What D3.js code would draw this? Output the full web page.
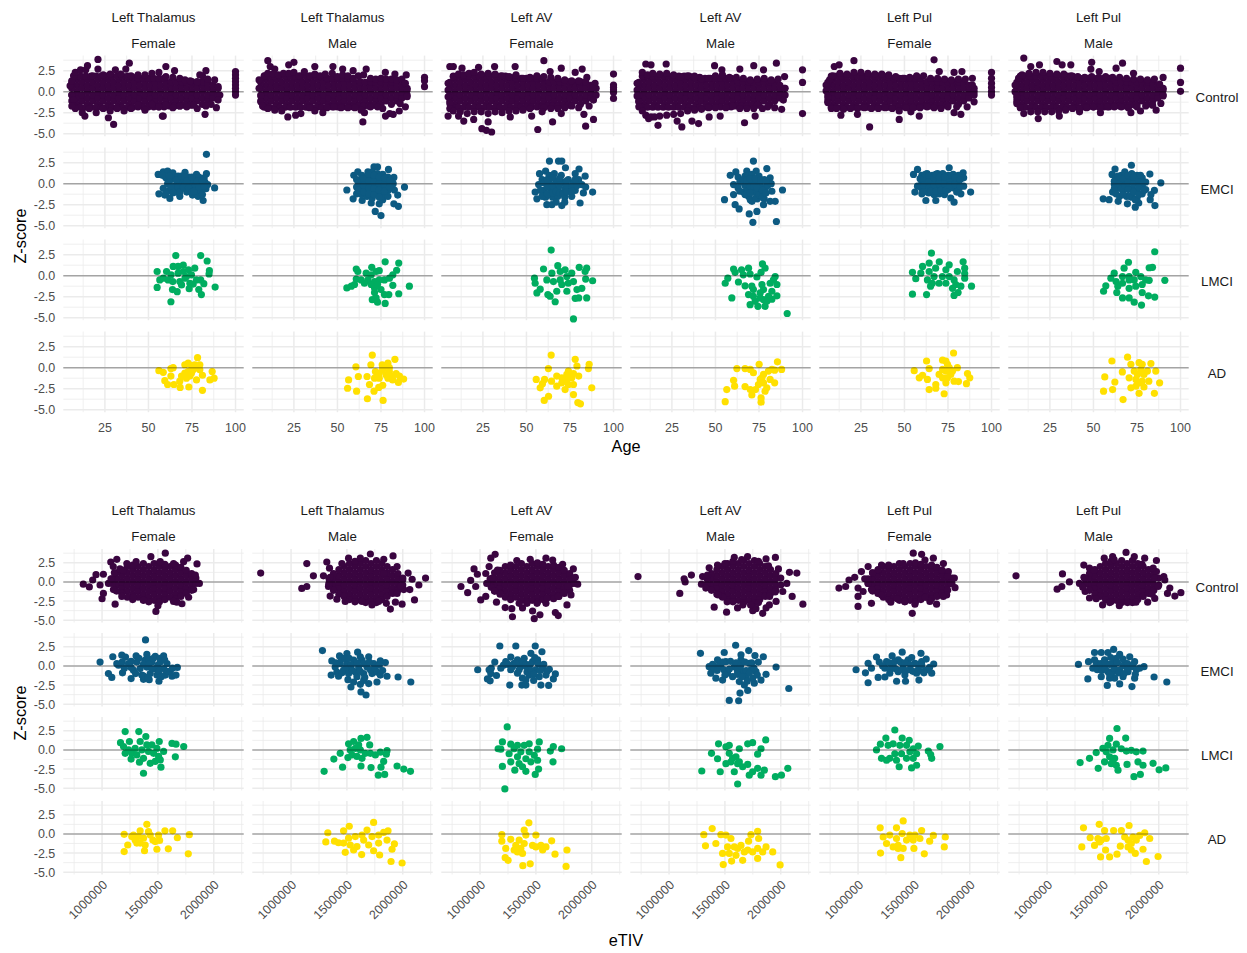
<!DOCTYPE html><html><head><meta charset="utf-8"><script src="https://cdn.jsdelivr.net/npm/d3@7"></script>
<style>html,body{margin:0;background:#fff}text{font-family:"Liberation Sans",Arial,sans-serif}</style></head><body><svg id="c" width="1247" height="953"></svg>
<script>
const regions=["Left Thalamus","Left Thalamus","Left AV","Left AV","Left Pul","Left Pul"];
const sexes=["Female","Male","Female","Male","Female","Male"];
const groups=["Control","EMCI","LMCI","AD"];
const colors=["#3a0540","#0d5a82","#00ad60","#ffe000"];
const yMajor=[-5,-2.5,0,2.5],yMinor=[-3.75,-1.25,1.25,3.75];
const ageMajor=[25,50,75,100],ageMinor=[12.5,37.5,62.5,87.5];
const tivMajor=[1000,1500,2000],tivMinor=[750,1250,1750,2250],tivLabels=["1000000","1500000","2000000"];
// Solid body of the Control clouds (individual dots not legible there)
const ageBody=[9,-1.5,9,-.75,9,0,9,.75,9,1.5,12,-1.1,12,-.4,12,.4,12,1.1,15,-1.5,15,-.75,15,0,15,.75,15,1.5,18,-1.1,18,-.4,18,.4,18,1.1,21,-1.5,21,-.75,21,0,21,.75,21,1.5,24,-1.1,24,-.4,24,.4,24,1.1,27,-1.5,27,-.75,27,0,27,.75,27,1.5,30,-1.1,30,-.4,30,.4,30,1.1,33,-1.5,33,-.75,33,0,33,.75,33,1.5,36,-1.1,36,-.4,36,.4,36,1.1,39,-1.5,39,-.75,39,0,39,.75,39,1.5,42,-1.1,42,-.4,42,.4,42,1.1,45,-1.5,45,-.75,45,0,45,.75,45,1.5,48,-1.1,48,-.4,48,.4,48,1.1,51,-1.5,51,-.75,51,0,51,.75,51,1.5,54,-1.1,54,-.4,54,.4,54,1.1,57,-1.5,57,-.75,57,0,57,.75,57,1.5,60,-1.1,60,-.4,60,.4,60,1.1,63,-1.5,63,-.75,63,0,63,.75,63,1.2,66,-1.1,66,-.4,66,.4,66,1.1,69,-1.5,69,-.75,69,0,69,.75,69,1.2,72,-1.1,72,-.4,72,.4,72,1.1,75,-1.5,75,-.75,75,0,75,.75,75,1.2,78,-1.1,78,-.4,78,.4,78,1.1,81,-1.5,81,-.75,81,0,81,.75,81,1.2,84,-1.1,84,-.4,84,.4,84,1.1,87,-.75,87,0,87,.75];
const ageRim=[8,1.85,11,1.85,14,1.85,17,1.85,20,1.85,23,1.85,26,1.85,29,1.85,32,1.85,35,1.85,38,1.85,41,1.7,44,1.6,47,1.6,50,1.6,53,1.6,56,1.6,59,1.6,8,-1.85,11,-1.85,14,-1.85,17,-1.85,20,-1.85,23,-1.85,26,-1.85,29,-1.85,32,-1.85,35,-1.85,38,-1.85,41,-1.85,44,-1.8,47,-1.8,50,-1.8,53,-1.8,56,-1.8,59,-1.8,62,-1.7,65,-1.7,68,-1.7,71,-1.6,74,-1.6,6,-1.1,6,-.4,6,.4,6,1.1,90,-.4,90,.4];
const tivBodyF=[1130,-.4,1130,.4,1178,-.8,1178,0,1178,.8,1226,-1.2,1226,-.4,1226,.4,1226,1.2,1274,-1.6,1274,-.8,1274,0,1274,.8,1274,1.6,1322,-1.2,1322,-.4,1322,.4,1322,1.2,1322,2,1370,-1.6,1370,-.8,1370,0,1370,.8,1370,1.6,1418,-2,1418,-1.2,1418,-.4,1418,.4,1418,1.2,1418,2,1466,-2.4,1466,-1.6,1466,-.8,1466,0,1466,.8,1466,1.6,1466,2.4,1514,-2,1514,-1.2,1514,-.4,1514,.4,1514,1.2,1514,2,1562,-1.6,1562,-.8,1562,0,1562,.8,1562,1.6,1610,-1.2,1610,-.4,1610,.4,1610,1.2,1610,2,1658,-1.6,1658,-.8,1658,0,1658,.8,1658,1.6,1706,-1.2,1706,-.4,1706,.4,1706,1.2,1754,-.8,1754,0,1754,.8,1802,-.4,1802,.4];
const tivRimF=[1130,-1.2,1130,1.2,1178,-1.5,1178,1.5,1226,-2,1226,2,1274,-2.3,1274,2.2,1322,-2,1370,-2.4,1370,2.4,1418,-2.6,1514,-2.6,1514,2.5,1562,-2.3,1562,2.3,1610,-2,1658,-2.2,1658,2.2,1706,-1.9,1706,1.9,1754,-1.5,1754,1.5,1802,-1.1,1802,1.1,1840,-.2,1840,.5,1090,-.2,1090,.4];
const tivBodyM=[1380,-.4,1380,.4,1428,-.8,1428,0,1428,.8,1476,-1.2,1476,-.4,1476,.4,1476,1.2,1524,-1.6,1524,-.8,1524,0,1524,.8,1524,1.6,1572,-2,1572,-1.2,1572,-.4,1572,.4,1572,1.2,1572,2,1620,-2.4,1620,-1.6,1620,-.8,1620,0,1620,.8,1620,1.6,1620,2.4,1668,-2,1668,-1.2,1668,-.4,1668,.4,1668,1.2,1668,2,1716,-2.4,1716,-1.6,1716,-.8,1716,0,1716,.8,1716,1.6,1716,2.4,1764,-2,1764,-1.2,1764,-.4,1764,.4,1764,1.2,1764,2,1812,-1.6,1812,-.8,1812,0,1812,.8,1812,1.6,1860,-1.2,1860,-.4,1860,.4,1860,1.2,1908,-.8,1908,0,1908,.8,1956,-.4,1956,.4];
const tivRimM=[1380,-1.1,1380,1.1,1428,-1.6,1428,1.6,1476,-1.9,1476,2,1524,-2.3,1524,2.4,1572,-2.6,1572,2.7,1668,-2.7,1668,2.8,1764,-2.7,1764,2.8,1812,-2.3,1812,2.4,1860,-1.9,1860,2,1908,-1.5,1908,1.6,1956,-1.1,1956,1.1,2000,-.4,2000,.5,1340,-.3,1340,.4];
// Age panels: Control edges
const ageThalF_C=[5,.7,6,-.4,6,1.3,7,-1,7,1.9,7,-1.7,8,2.3,11,2.6,14,2.6,15,3.1,18,1.9,21,3.85,21,2.7,24,2,28,2.1,31,2.6,34,2.1,37,2.7,39,3.4,40,1.9,44,2,48,2,52,2.2,56,2.3,60,3,60,1.8,64,1.7,65,2.5,68,1.6,71,1.4,74,1.3,78,1.2,79.5,2,81,1.9,83,2.5,84,1.5,88,1.4,90,.6,91,-.4,90,-1,89,-1.9,86,-1.5,83,-1.7,82.5,-2.7,78,-2,76,-1.6,72,-1.8,68,-1.7,64,-1.9,60,-1.6,58.5,-2.9,58,-2.9,56,-1.8,52,-1.5,48,-2.2,44,-1.6,40,-2,36,-2.3,32,-2,30,-3.9,28,-2.3,27,-3.1,24,-2,20,-2.5,16,-2,13.5,-2.9,12,-2.5,8,-2,6,-1.7,100,2.4,100,2,100,1.6,100,1.2,100,.8,100,.4,100,0,100,-.4];
const ageThalM_C=[5,1.4,5,.4,6,-.5,6,-1.2,7,-1.7,8,1.9,10,3.7,11.4,3,14,2.7,10,2.2,13,2.1,16,2,19,2.2,22,3.2,22,2.2,25,3.5,25,2.3,28,1.9,31,2.4,34,1.9,37,3,37,2.1,40,1.9,43,2.1,47.4,3,47,2.2,50,1.8,53,2.7,53,2,56,1.9,59,2.5,62,1.9,66.5,2.7,65,2,69,1.6,72,1.5,75,1.6,77.5,2.3,78,1.5,81,1.5,83,2.1,84,1.4,87,1.5,89.5,2,89,1,90,.2,90,-.6,89,-1.8,85.5,-2.3,82,-2.7,86,-1.4,80,-2.6,77.6,-2.9,76,-2,73,-1.8,69,-1.8,65.5,-2.5,64.6,-3.6,63.6,-2.2,60,-1.9,56,-1.9,52,-1.9,48,-1.8,44,-1.9,41.6,-2.5,37,-2.3,34,-1.9,29,-2.6,26,-2.8,21.5,-3,18,-2.3,14,-2.2,10,-2,100,1.7,100,1.3,100,.6];
const ageAVF_C=[5,1,5,.2,5,-.6,6,-1.4,6,-2,5,-2.9,6,3,8,3,8,1.8,11,2.1,13,2.8,14,2,17,2.2,20,2.3,22.5,2.9,24,2.1,28,2.2,31.7,3,32,2.1,36,1.9,40,1.8,43.5,3,44,2,48,1.6,52,1.7,56,1.9,60,3.7,60,1.8,63.6,2.4,64,1.7,68,1.6,70,2.8,72,1.4,76,1.3,78,2.3,80,1.3,82,2.7,84.7,1.7,84,1.2,89.4,1,88,.4,88.5,-1,86,-1.7,83,-2.7,84,-4.1,88.5,-3.3,80,-1.9,76,-1.7,72,-1.9,70,-2.6,68,-2,65,-3.6,64,-2,60,-1.9,59,-2.4,56.5,-4.5,53,-2.9,52,-2,48,-2.2,44,-2.3,40.7,-3,40,-2.3,36,-2.5,32,-2.4,30,-4.8,28,-3.6,27,-4.6,28,-2.6,24.4,-4.4,24,-2.4,19.7,-3.3,20,-2.4,16,-2.6,14,-3.5,12,-2.4,11,-2.9,8,-2.3,100,2.1,100,.8,100,.5,100,.2,100,-.1,100,-.8];
const ageAVM_C=[5,1,5,.2,5,-.5,6,-1.2,6,-1.8,8,-2.3,10,-2.8,11.6,-3.2,13,-3,10,3.3,13,3.2,8,2.3,11,2,14,2.2,18,2.1,21.7,3.3,22,2.2,26,2,30,1.8,34,1.9,38,1.7,42,1.5,46,1.6,49.5,3.1,50,1.9,53.7,2.6,54,2,58,1.7,62,1.7,64,2.7,66,1.6,70,1.4,72,3.1,74,1.5,77.6,2.6,78,1.6,82,1.4,85,3.4,86,1.5,89.7,1.8,89.7,.4,89,-1,88,-2.1,84,-1.9,80,-1.8,77,-2,72.8,-2.9,72,-2,66.7,-3.7,68,-2,64,-2,60,-1.7,56,-1.9,52.7,-2.9,50,-1.9,46.4,-3,46,-1.9,40.3,-3.8,42,-2.1,38,-2.2,36.5,-3.5,34,-2.3,30.7,-4.2,30,-2.6,28,-3.5,26,-2.7,22,-2.8,17,-4,18,-2.9,15,-3,100,2.6,100,1.1,100,-2.6];
const agePulF_C=[5,.8,5,.1,6,-.7,6,-1.3,8,-2,7,1.4,9,1.9,9.7,3,12.5,3.2,13,2.2,17,2.1,21,3.7,21,2.3,25,2.3,29,2.2,33,2.1,37,2.1,41,2,45,1.8,49,1.6,53,1.7,57,1.9,61,1.9,65,1.6,67,3.8,70,2.4,69,1.6,73,1.5,77,1.4,78.5,2.3,81,1.5,83,2.4,85,1.5,89,1.6,89,.8,90,0,90,-1.2,86,-1.8,82.4,-2.7,78.5,-2.5,80,-1.8,75,-1.8,71,-2,67,-1.9,63,-1.8,58.5,-2.9,59,-1.9,53.7,-2.4,55,-1.9,51,-1.9,47,-3.3,47,-2.3,43,-2,39,-1.9,35,-2,30,-4.2,31,-2,27,-1.9,23,-2.7,23,-2,19,-2,13.5,-2.8,15,-2.1,11,-2,100,2.3,100,1.6,100,1,100,.5,100,0,100,-.4];
const agePulM_C=[5,.8,5,0,6,-.7,6,-1.4,7,1.6,9,2,10,4,13,2.2,14,3,17,2.3,19,3.2,21,2.3,25,2.2,29,3.6,29,2.1,32,3.2,33,2.1,37,3.2,37,1.9,41,1.8,45,1.7,49,3.5,48.5,2.7,49,1.8,53.3,2.4,53,1.7,57,1.8,61,1.7,63,2.8,65,1.7,66.7,3.4,69,1.6,73,2.2,73,1.5,77,1.5,81,1.4,85,1.5,90,1.7,88,.9,90,.2,90,-.5,88.7,-1.4,86,-2.2,84,-1.6,80,-1.7,77,-2.3,75,-1.8,71.5,-2.5,70,-1.9,66,-1.8,62,-1.8,58,-1.8,54,-2.5,54,-1.9,50,-1.8,46,-1.9,42,-2.4,42,-2,38,-2,34,-2.2,30.4,-2.9,30,-2.3,26,-2.4,22,-2.4,18.3,-3.2,18,-2.4,14,-2.4,10,-2.6,8,-1.9,100,2.8,100,1.1,100,.05];
// Age panels: EMCI
const ageThalF_E=[83.3,3.5,88,-.5,55.6,1.1,58.5,1.4,61,1.5,64,1.3,56,-1.2,59.4,-1.35,62.3,-1.75,68,-1.5,75.3,-1.35,78.5,-1.5,81.4,-2,83.3,1.2,82.4,.2,77.6,1.1,71,1.35,58.5,-.55,60,.7,61,0,62,-.8,64,.6,65,-.3,66,-1,67,.9,68,.2,69,-.6,70,.6,71,-.1,72,-1,73,.8,74,.1,75,-.6,76,.5,77,-.2,78,-.9,79,.8,80,0,80,-.8,81,-1.3,82,.7,83,-.6,84,-.1,62,.9,62,.2,63,-.4,64,-1.1,66,.4,67,-.4,68,-1,69,.9,70,-.4,71,.8,72,.3,73,-.5,75,.8,75,-1,76,-.9,78,.3,79,-.4,81,.4,82,-.3,58,1,60,-1.2];
const ageThalM_E=[88.5,-.4,55.4,-.75,59,-1.8,59.4,1,61.7,1.4,73,2,67.5,1.4,79.3,1.7,82.4,.75,82.7,-.75,84.6,-1.35,82.4,-2.4,85,-2.7,71.7,-3.3,75,-3.8,69.4,-2.3,74,-2.4,64.2,-2,76,-1.9,71,2,61,.5,61,-.4,61,-1.2,64,1,64,.2,64,-.6,64,-1.3,67,.7,67,0,67,-.8,67,-1.5,70,1.4,70,.6,70,-.2,70,-1,70,-1.7,73,1.2,73,.4,73,-.4,73,-1.2,76,1.1,76,.3,76,-.5,76,-1.2,79,.8,79,0,79,-.8,79,-1.5,82,0,62,.1,62,-.8,65,.6,65,-.2,65,-1,68,1.1,68,.3,68,-.5,68,-1.2,71,1,71,.2,71,-.6,71,-1.3,74,.8,74,0,74,-.8,74,-1.6,77,.7,77,-.1,77,-.9,80,.4,80,-.4];
const ageAVF_E=[63.2,2.7,68.4,2.7,70.3,2.7,72.4,1.9,80.2,1.75,78,1.2,83.7,.9,57.5,1.2,61,1.5,88,-1,82.7,-1.1,80.8,-2.3,70.3,-2.6,61.7,-2.5,56,-1.8,55,-1,57,-.1,64.6,-2.5,76,-1.5,81.8,-.1,59,.5,60,-.8,61,-1.6,63,1,63,.1,64,-.7,65,-1.6,66,1.2,67,.3,68,-.6,68,-1.5,70,1,71,.2,72,-.7,72,-1.6,74,.5,75,-.4,77,.1,78,-.8,80,.5,84,-.4,67,-2.2,72,-2.2,58,-.8,59,-1.5,60,.1,62,.5,62,-.4,62,-1.2,65,.7,65,-.2,65,-1.1,67,-.9,69,.6,69,-.2,69,-1.1,71,-1.2,73,.3,73,-.3,73,-1,76,-.3,76,-.9,79,-.2,78,.5];
const ageAVM_E=[71.8,2.7,68,1.5,73.4,1.5,79.5,1.8,61.7,1.4,58.5,1,60.4,-.1,55.2,-1.9,88.5,-.75,82.4,-.9,84.3,-2.1,81.4,-2.1,81.4,.7,60.4,-1.3,61.3,-2.5,63.6,-3,69.4,-3.6,73.8,-3.3,71.5,-4.6,85,-4.5,77.6,-2.5,71,-2.1,63,.8,63,-.5,65,.2,66,-1,67,.9,67,-.2,69,1,69,.2,69,-.8,69,-1.5,71,1.1,71,-.4,72,.4,73,-1,74,.2,74,-1.8,75,.9,76,-.3,76,-1.2,78,.5,78,-1.8,79,-.4,80,-.2,82,0,64,.2,64,-.9,66,.5,67,-1.3,68,.4,68,-1.2,70,.6,70,-.3,70,-1.1,70,-1.9,72,-.3,73,.6,73,-1.7,74,-.5,75,-1.3,76,.4,77,-.8,77,-1.6,79,.3,79,-1.1];
const agePulF_E=[57.5,1.7,55.2,1.1,75.7,1.9,83.7,1.3,88,-1,78.5,-2.2,76.6,-1.7,68,-2,62.3,-2,56,-1,82.4,-1.2,84,.7,57.5,-.3,60,1,60,.2,60,-.6,60,-1.2,63,1.2,63,.5,63,-.3,64,-1.1,66,1,66,.2,66,-.6,67,-1.3,69,1.2,69,.4,69,-.4,70,-1.2,72,1.2,72,.4,72,-.4,73,-1.3,75,1,75,.2,75,-.7,78,1.1,78,.4,78,-.5,81,1,81,.1,81,-.7,84,-.3,59,.6,59,-.3,61,.6,61,-.2,61,-1,62,1.1,64,.9,64,.2,64,-.5,65,-.9,67,.7,67,-.1,68,1.1,68,-.9,70,.8,70,0,71,-.8,73,.8,73,0,74,-.8,76,.6,76,-.2,77,1,79,.7,79,-.1,80,-1,82,.5,82,-.3];
const agePulM_E=[71.8,2.2,62.4,1.75,60.7,1.1,82.4,1.15,88.7,.1,55.6,-1.8,59,-1.9,64.2,-2.1,69.5,-2.4,74,-2.8,85.3,-2.6,82.6,-1.9,85,-.8,62,-.1,61,-1,63,.6,64,-.5,65,-1.5,66,1,66,.2,67,-.8,68,1.4,69,.5,69,-.3,69,-1.5,72,1.2,72,.3,72,-.6,72,-1.6,75,1,75,.1,75,-.8,75,-1.8,78,.7,78,-.2,78,-1.2,80,.2,80,-.7,76,-2.3,83,-1.3,62,.3,62,-.6,63,-1.2,64,.9,65,0,66,-.6,67,-1.3,67,.6,68,-.2,70,1,70,.1,70,-.7,71,-1.5,73,.8,73,0,73,-1,74,-1.9,76,.5,76,-.4,76,-1.3,77,1,79,.2,79,-.8];
// Age panels: LMCI
const ageThalF_L=[65.7,2.4,80,2.4,83.7,1.75,85,.6,84.8,.2,55,.5,60.4,.5,55,-1.4,88.3,-1.35,80.4,-2.25,78.9,-1.65,62.9,-3.1,66.5,-1.9,63.8,-1.65,73.4,-1.55,64.2,1.1,67,1.1,70,1.25,76.6,.9,81.8,-.95,80,-.5,56.5,-.5,58.5,-.3,61.3,-.5,63,.1,64,-.7,67,.3,68,-.7,70,.5,71,-.3,73,.7,73.8,-.9,74.7,.1,75.7,-1,77.6,-.5,71.8,-.1,69,-1.1];
const ageThalM_L=[77.4,1.65,85.2,1.5,84,.65,69.7,1,60.8,.8,61.7,.5,55.4,-1.45,58,-1.25,59.8,-1.05,60.8,-.4,91.3,-1.25,85.2,-2.15,81.8,-1.15,79.5,-2.25,77.4,-3.3,73,-3.15,70,-2.85,72.2,-2.65,77,-2.25,75,-1.65,71.3,-2,71.3,-1.45,66.5,.3,63.6,-.5,67.5,-.5,69.4,.1,71.3,-.7,72.2,.5,74,.6,74,-.5,77,-.5,79.9,-.3,81.8,.1,65.5,-.9,69.4,-1.05,73,-1.05];
const ageAVF_L=[64.2,3.05,77,-5.15,80.3,1,84.6,.9,83.7,.5,88,-.6,84,-.4,84.6,-2.65,80,-2.65,78,-2.7,66.5,-3.1,63.6,-2.45,62.3,-2.25,56,-2.05,57.9,-1.6,54.6,-.3,55,-.9,59.8,.8,68,1.2,81.8,-1.5,79,-1.65,73.2,-1.85,67.4,-1.85,61.7,-.5,64.6,.3,65.5,-.7,69.4,.5,69.4,-.5,72.2,.7,73.2,-.1,74,-.9,76,.3,77,-.7,70.3,-1.05];
const ageAVM_L=[91.2,-4.5,59.4,-2.65,77,1.4,78.5,.9,76.2,.4,73.8,-.15,60.4,.8,61.3,.4,65,.7,69,.9,69.9,.2,66,.1,57.1,-.3,55.6,-.9,63.2,-.75,67,-1.2,84.3,-.1,85.3,-1.05,85.3,-2.4,82.4,-2.8,74.4,-3.65,78.5,-3.65,69.9,-3.45,69,-2.25,71.8,-1.65,76.7,-1.05,81.4,-.9,83.3,-.5,77.6,-1.65,80.5,-2.45,75.7,-2.65,77.6,-2.85,72.8,-3.05,79.5,-3.05,71.8,-2.45,75.7,-2.05,82.4,-1.85,70.9,-1.25];
const agePulF_L=[65.5,2.7,83.7,1.65,84.6,.9,84.6,.25,84.6,-.3,88.5,-1.25,54.6,.4,56.5,-.35,60.4,1.1,64.2,1.5,70,1.65,54.6,-2.2,62.7,-2.25,65,-1.25,78.5,-2.35,80.8,-2,82.4,-1.25,77.6,-1.5,59.4,.3,64.2,.5,63.2,-.5,67,-.1,66,-.9,69.9,-.9,71.8,-.1,73.8,.7,75.7,1.3,75.7,-.1,73.8,-.9,78.5,-.5,80.4,.5,79.5,-1.05,67.9,.9];
const agePulM_L=[85.2,2.85,83.9,1,82,.95,91,-.55,70.1,1.6,67.6,.9,61.9,.3,60,-.3,57.1,-1.2,55.8,-1.85,77.6,-3.5,73.4,-3.15,70.5,-2.65,66.7,-2.65,63.4,-2,85.2,-2.55,81.6,-2.4,74.3,.4,82,-.55,63,-.7,66.7,-.9,66.7,-.1,70.5,-.1,70.5,-1.5,73.4,-.5,74.3,-1.25,77.2,-.1,78,-1.05,78,-2,80,-.5,70.5,-.5,64,-1.25];
// Age panels: AD
const ageThalF_A=[78.2,1.2,79.5,.35,56,-.35,58.5,-.55,62.9,-.1,64.2,0,62.9,-1,59.4,-1.55,61,-2,64.6,-2,68.2,-2.35,73.2,-2.3,68,-1.6,69,-1,70.9,.35,72.8,.55,74.7,.25,77.6,-1.45,81,-2.7,81,-.9,86.6,-.45,85.3,-1.45,87.7,-1.25,70.9,-.65,72.8,-.45,73.8,-1,75.7,-.25,77.6,0,76.6,.35,79.5,-.25,71.8,-1.25,74.7,-.65];
const ageThalM_A=[70,1.5,83,1,69.2,.35,60.6,.1,79,.55,56.4,-1.45,55.8,-2.45,62,-1.05,61,-2.8,67,-1.05,68.4,-2,71,-2.8,67.2,-3.7,76.2,-3.9,73.7,-2.35,76,-2.1,88,-1.35,85,-1.75,75.7,.35,71.8,-.45,71.3,-1.25,74,-.65,76,-.25,77.9,-.85,79.8,-.45,79,-1.25,81.7,-1,83.7,-.7,85.6,-1,81.7,-1.45,74,-1.25,76,0,79.8,0];
const ageAVF_A=[64.2,1.5,78,1,79,.2,86,.4,85.6,-.1,62.6,-.1,55.6,-1.4,60.4,-1.4,59.2,-1.9,57.9,-2.4,64.4,-1.6,87.5,-2.4,62.7,-3.4,60.2,-3.9,79.5,-4.15,81,-4.3,77,-3.2,72.2,-2.6,67.4,-2.2,74.1,-.4,67.4,-1,70.3,-1.2,73.2,-1.4,76,-1.2,80,-1,77,-2,74.1,-2,70.3,-1.8,73.2,-.8,77,-.7];
const ageAVM_A=[85.6,.7,75.1,.4,62.3,-.1,67,-.1,70,-.2,88,-.2,84,-.3,71.8,-.6,60.4,-1.5,61,-2.2,56.5,-2.6,55.6,-4.05,67,-2.25,70,-2.6,70.9,-3.25,76.2,-3.6,76.2,-4.1,78.5,-2.8,84,-1.8,81.4,-1.4,80.4,-.4,77.6,-.8,75.7,-1.4,77.6,-1.8,74.7,-2,73,-2.6,79.5,-2.4,76.7,-1.2,82.4,-.2];
const agePulF_A=[78.2,1.75,62.7,.8,71.9,.9,73.8,.8,64.2,-.1,55.6,-.35,60.4,-.9,58.5,-1.2,63.2,-1.4,86.2,-.7,87.5,-1.2,85.6,-1.9,81,-1.65,78.5,-1.6,64.2,-2.6,68,-2,72.8,-3.1,68,-2.45,74.7,.4,80.4,0,69.9,-.8,71.9,-.2,73.8,-.4,75.7,0,77.6,-.4,71.9,-1.2,74.7,-1.2,73.8,-1.8,76.6,-.8];
const agePulM_A=[69.6,1.25,60.6,.8,71.5,.4,76.2,.6,78,.4,83,.5,66.6,-.5,56.5,-1.1,62.3,-1.7,55.8,-2.8,61,-2.6,67,-3.8,88,-1.8,85.8,-.4,85,-3.05,76.2,-3.05,79,-2.3,71.5,-2.4,70.5,-1.2,73.4,-.4,75.3,-.8,77.2,-.2,79,-.8,81,-.4,74.4,-1.4,78,-1.6,81.8,-1.6,74.4,-2.2,76.2,-1.8];
// eTIV panels: Control edges
const tivThalF_C=[832,-.3,886,-.65,916,.25,946,.95,1012,1,982,-.4,1012,-1.5,1000,-2.2,1117,-2.9,1078,2.6,1132,2.95,1222,2.4,1437,3.3,1566,3.75,1730,2.65,1766,3.1,1850,2.35,1835,.9,1871,-.2,1820,-1,1775,-2,1715,-2.85,1670,-2.65,1640,-2.55,1500,-3.1,1482,-3.85,1371,-2.35,1281,-2,1177,-1.9,1102,-1,1057,-.2,1305,2.65,1521,2.65,1640,2.4,1080,.4,1110,1.2,1160,1.7,1100,2,1190,1.5];
const tivThalM_C=[728,1.15,1141,2.4,1320,2.6,1200,.8,1290,.8,1096,-.85,1141,-.6,1344,1.8,1335,-.6,1350,-1.85,1410,-2.25,1485,-2.55,1515,3.1,1455,2.4,1710,3.65,1830,2.95,1913,3.4,1949,2,2048,1.15,2084,.35,2204,.5,2144,-.4,2063,-1,2105,-2.35,1994,-2.9,1934,-2.65,1889,-3.55,1853,-2.8,1724,-3,1635,-2.55,1784,-2.55,2009,-1,1949,-1.5,1620,3.1,1830,1.1,1350,.6,1340,-.2,2000,.3,1980,-.5];
const tivAVF_C=[829,-.6,889,-1.4,916,.2,976,1,946,1.7,1051,1.1,1081,2,1096,3.1,1135,3.6,961,-.6,1006,-2.35,1051,-1.9,1147,-2.65,1225,-3.35,1284,-3.5,1290,-4.55,1485,-4.8,1536,-4.3,1470,-3.8,1674,-4,1700,-4.4,1778,-3,1814,-1.7,1874,-.3,1853,.6,1835,1.7,1739,2.3,1650,2.85,1590,3.1,1449,2.95,1329,2.8,1156,1.55,1380,-3.4,1350,-2.8,1590,-2.8,1784,-.6,1420,-2.8,1510,-2.8,1100,-.7,1060,-.2,1110,.5,1130,-1.2,1180,-1.6,1600,-2.1,1700,-1.9,1750,-1.4];
const tivAVM_C=[722,.7,1135,.4,1144,0,1200,.9,1096,-1.5,1300,.7,1290,-.3,1359,1.85,1329,-.8,1404,-3.3,1515,-3.95,1749,-3.75,1778,-3.5,1838,-4.1,1868,-3.4,1703,3.3,1584,3.2,1868,3,1952,3.2,1979,1.7,2078,1.25,2144,1.15,2054,-.2,2102,-1.9,2198,-2.9,2018,-1.25,1958,-2.55,1434,2.2,1520,-2.6,1613,-3.4,1898,-3,1344,.9,1660,-3,1730,-3,1800,-2.7,1480,-2,1440,-1.7,1900,-1.9,1950,-1.3,1890,2.1,1800,2.7,1500,2.4,1650,2.9];
const tivPulF_C=[829,-.8,889,-.6,919,.25,970,.6,1000,-.8,1000,-3.2,1120,-2.8,1045,-1.25,1000,-1.9,1030,1.35,1090,2,1210,2.2,1404,2.4,1494,3.75,1569,3.6,1674,3.1,1764,2.4,1808,1.35,1862,.5,1868,-.75,1793,-1.7,1703,-2.9,1485,-4.1,1509,-2.9,1419,-2.55,1293,-2.65,1210,-1.7,1120,-1,1643,-2.55,1763,-1.9,1599,2.85,1060,.4,1090,-.2,1130,1.2,1180,1.6,1750,1.5,1800,.7,1830,-.1,1600,-2,1350,-2.2];
const tivPulM_C=[722,.8,1138,1.05,1200,0,1132,-.6,1090,-.95,1290,-.2,1329,2.2,1341,-1.25,1497,-3,1647,-3.1,1796,-2.65,1901,-2.65,1707,3.85,1512,3.1,1874,3.1,1979,2.8,1979,1.35,2045,.7,2054,.25,2099,-.8,2078,-1.5,2144,-1.85,2198,-1.4,1964,-2.15,1994,-.6,1380,1.8,1587,3.3,1781,3.3,1380,-2.1,1330,.6,1320,-.7,1420,1.5,1440,-2.2,1600,2.9,1850,2.3,1950,1.8,1960,.5,1940,-1.6,1720,-2.7,1560,-2.7];
// eTIV panels: EMCI
const tivThalF_E=[1389,3.4,982,.5,1096,1.2,1177,1.4,1210,1.15,1057,-1,1087,-1.5,1132,.3,1183,-.9,1260,-1.65,1371,-1.75,1422,-1.8,1509,-2,1626,-1.35,1662,-1.2,1674,-.2,1551,1.3,1401,1.5,1305,1.3,1476,1.25,1147,.1,1237,.3,1281,-.55,1311,.5,1341,-.35,1356,-1.2,1386,.75,1401,-.15,1431,-1,1446,.5,1476,-.35,1491,-1.2,1521,.5,1551,-.35,1566,-1.2,1611,-.8,1581,.3,1180,.5,1200,-.3,1260,.6,1260,-.2,1300,-1,1330,1,1370,.2,1370,-1.3,1420,.9,1420,.2,1450,-.4,1460,1,1500,.1,1510,-.7,1530,-1.4,1520,1,1560,.8,1590,-.7,1630,-.3,1410,-1.5];
const tivThalM_E=[1281,2,1596,1.8,1434,1.3,1500,1.6,1365,.65,1359,-1.2,1425,-1.35,1509,-1.8,1536,-2.75,1620,-2.4,1626,-3.4,1671,-3.8,1695,-2.3,1769,-2.1,1859,-1.35,1958,-1.45,2072,-2.1,1844,.45,1799,.65,1695,1.2,1395,-.15,1440,.3,1470,-.55,1500,.3,1530,-.35,1560,.75,1575,-.8,1605,-.15,1635,.75,1650,-1,1680,-.15,1725,-1,1740,.3,1769,-.8,1799,-1.2,1650,-1.9,1560,-2.1,1515,-1,1400,.4,1410,-.8,1450,.9,1455,-.9,1480,1,1490,-.2,1520,1,1540,.1,1550,-.6,1590,.4,1590,-1.4,1620,1.2,1620,-.7,1650,.3,1660,-1.5,1700,.5,1710,-.5,1750,-.3,1790,.1,1820,-.6];
const tivAVF_E=[979,-.5,1177,2.6,1320,2.6,1494,2.6,1081,-.5,1096,-1,1147,-1.25,1066,-1.7,1090,-1.95,1132,.5,1186,-.3,1266,-2.5,1374,-2.5,1410,-2.5,1545,-2.5,1614,-2.55,1656,-1.7,1674,-1.05,1620,-.45,1554,1.85,1455,1.65,1275,1.15,1230,.55,1275,-.5,1305,.35,1335,.8,1335,-.95,1365,-.1,1380,-1.6,1395,1,1425,-.3,1440,-1.2,1470,.55,1500,-.5,1515,.8,1530,-1.4,1560,-.3,1590,-1.2,1410,-1.85,1100,-.3,1210,.1,1250,.2,1290,-.1,1320,.3,1350,.4,1350,-.5,1380,.6,1410,.2,1420,-.8,1450,.2,1460,-.6,1490,1.1,1480,-1.1,1520,.3,1540,-.6,1570,.2,1600,-.7,1480,-1.9];
const tivAVM_E=[1596,2.7,1281,1.65,1494,1.75,1713,2,1769,1.35,1844,1.2,1799,.5,1958,-.15,2072,-2.95,1539,-4.5,1623,-4.55,1635,-3.55,1704,-3.2,1868,-1.1,1823,-1.85,1763,-2.25,1359,-.1,1374,-.95,1419,-1.6,1479,-1.85,1434,.8,1404,-.3,1464,-.1,1509,.55,1524,-.95,1569,-1.4,1584,-.1,1629,-2.05,1644,.8,1659,-.75,1674,-2.5,1689,-1.4,1718,.35,1733,-.5,1748,-1.6,1644,1.45,1778,-.75,1390,.2,1430,-.6,1450,.1,1480,.5,1490,-.5,1500,-1.2,1540,-.4,1550,.6,1600,.4,1610,-.5,1610,-1.1,1640,0,1650,-1.4,1680,.5,1690,-.6,1720,-.9,1740,.4,1760,-.3,1700,-2,1790,-1.2];
const tivPulF_E=[982,-.5,1090,-2.2,1066,-.9,1090,.35,1165,1.15,1180,-1.5,1240,-1.45,1345,-2,1425,-2,1545,-1.85,1659,-.95,1677,.25,1563,1.65,1395,1.8,1305,1.3,1120,-.3,1255,.55,1314,.1,1359,.8,1359,-.75,1404,.1,1419,-1.2,1449,.8,1464,-.5,1509,.35,1524,-.95,1569,.55,1584,-.75,1614,-.5,1240,-.3,1284,-.95,1190,.5,1220,0,1280,.4,1290,-.4,1330,.6,1340,-.4,1380,.5,1390,-.5,1420,.4,1430,-.6,1470,.1,1480,1.1,1490,-.7,1530,.2,1540,-.5,1570,.1,1590,-.9,1610,.9,1640,-.2];
const tivPulM_E=[1596,2.15,1281,.2,1425,1.75,1650,1.5,1740,1.2,1784,.55,1868,-.1,1958,-1.45,2072,-2.1,1365,-1.7,1539,-2.55,1650,-2.35,1760,-2.7,1784,-1.6,1485,-1.4,1371,.55,1485,1.75,1545,1.75,1425,.8,1410,-.3,1470,-.1,1515,.8,1545,-.75,1590,.35,1605,-1.6,1620,1,1650,-.5,1680,-1.4,1695,.35,1725,-.75,1754,-.1,1799,-.5,1829,-.3,1560,-1.6,1590,-.75,1440,.4,1450,-.5,1480,.3,1490,-.6,1520,.4,1520,-.4,1560,.2,1560,-1.1,1570,1.1,1600,-.3,1630,.4,1640,-.9,1680,0,1680,.9,1690,-1,1720,-.4,1720,.3,1770,.1,1790,-1.1];
// eTIV panels: LMCI
const tivThalF_L=[1207,2.4,1329,2.4,1165,.95,1245,1.1,1392,1.75,1512,1.1,1626,.85,1662,.75,1731,.45,1656,-.9,1527,-2.25,1371,-3.05,1431,-1.75,1335,-1.6,1260,-1.2,1207,-.45,1192,.45,1551,-.2,1237,0,1266,-.45,1296,.2,1311,-.65,1341,1.1,1356,0,1371,-1.1,1401,.65,1416,-.2,1446,.65,1461,-.45,1476,-1.5,1491,.2,1506,-.85,1521,-1.3];
const tivThalM_L=[1296,-2.8,1383,-1.2,1440,-.45,1461,-2.25,1515,.8,1626,1.5,1680,1.65,1704,.65,1859,-.1,1853,-.55,1829,-1.5,1805,-2.25,1716,-2.3,1626,-2.1,1781,-3.3,1838,-3.2,1949,-2.1,2009,-2.5,2069,-2.8,1509,-1,1799,-.3,1530,0,1545,-.65,1560,1.1,1575,.2,1590,-.85,1620,0,1635,-1.1,1665,-.45,1710,-.45,1755,-.65,1605,.65];
const tivAVF_L=[1243,3,1222,-5.1,1200,1.05,1162,.15,1186,.1,1530,1.05,1440,.8,1730,.15,1656,.45,1629,-.15,1653,-1.55,1524,-2.5,1494,-3.2,1410,-2.8,1311,-2.65,1200,-2.15,1275,.75,1335,.6,1260,-.5,1275,-1.55,1305,.15,1335,-.9,1350,-1.8,1365,-.25,1395,.6,1410,-1.15,1440,-.25,1455,-1.55,1485,-.7,1515,.1,1515,-1.35,1380,-2.2];
const tivAVM_L=[1865,1.3,1443,.8,1380,-.45,1434,-1.15,1293,-2.75,1458,-2.85,1614,-4.45,1509,.4,1539,.6,1629,.15,1704,.8,1748,.95,1823,.15,1793,-.55,1704,-1.9,1793,-2.4,1853,-2.65,1718,-3.3,1823,-3.3,1952,-3.5,2006,-3.3,2063,-2.4,1584,-2.85,1509,-1.8,1554,-1.55,1599,-.9,1629,-1.55,1659,-2.2,1748,-2.85,1539,-.45,1614,-1.8,1569,-1.1];
const tivPulF_L=[1329,2.6,1733,.45,1629,-.15,1650,-.6,1659,-1.1,1165,0,1200,.75,1249,1.55,1395,1.55,1458,1.25,1539,.5,1524,-2,1479,-2.35,1368,-2.2,1210,-1.1,1255,-1.35,1269,.6,1314,.8,1329,-.5,1344,-1.35,1374,.6,1389,-.5,1434,.6,1434,-1.1,1464,-.25,1494,.15,1494,-1.1,1524,-.5,1284,-1.1];
const tivPulM_L=[1626,2.8,1704,1.55,1560,1.5,1296,-1.65,1380,-1.1,1440,-.35,1458,-2.4,1716,-1.9,1859,-2,1949,-1.75,2003,-2.6,2063,-2.35,1835,-3.2,1778,-3.5,1635,-2.65,1859,-.15,1799,-.25,1814,-1.55,1620,.75,1500,.2,1515,-1.55,1530,-.25,1545,.6,1560,-.9,1575,-1.8,1590,0,1605,-1.1,1620,-2,1665,.15,1710,-.15,1754,-.05,1590,-1.55];
// eTIV panels: AD
const tivThalF_A=[1401,1.25,1198,-.05,1341,.4,1198,-2.3,1230,-1.45,1380,-2.2,1491,-2,1593,-1.95,1772,-2.6,1781,-.1,1674,-.5,1632,.4,1563,.4,1515,-.85,1455,-.8,1266,-.35,1296,-.8,1326,-.35,1341,-1.2,1371,-.55,1386,-1.45,1416,.3,1431,-.15,1506,-.15,1476,-1,1311,-1.2,1281,-.15];
const tivThalM_A=[1739,1.5,1521,1,1470,.4,1329,.15,1311,-1.05,1389,-.95,1425,-1.15,1485,-2.4,1560,-2.1,1632,-2.7,1739,-2.2,1793,-2.75,1895,-3.6,1994,-3.8,1904,-2,1925,-1.3,1859,-.8,1868,.4,1829,.2,1680,.5,1470,-1.2,1515,-.55,1530,-1.45,1575,-.35,1590,-1.65,1635,-.15,1650,-.8,1695,-1.45,1725,-.35,1784,-.15,1784,-1.2];
const tivAVF_A=[1437,1.45,1195,-.1,1195,-.95,1230,-1.9,1225,-3.1,1251,-3.45,1383,-4.15,1449,-3.9,1770,-4.25,1778,-2.1,1671,-2.65,1641,-.9,1500,-.15,1395,.5,1275,-.7,1560,-2.1,1305,-2.1,1320,-1.5,1350,-.8,1365,-1.9,1395,-1.25,1410,-.15,1470,-1.5,1500,-1.7,1545,-1.5,1590,-1.7,1380,-2.55,1335,-2.35];
const tivAVM_A=[1386,.7,1311,-.1,1326,-1.55,1419,-1.25,1464,-.1,1509,-.15,1554,-.6,1793,.35,1733,-.1,1802,-.6,1712,-.95,1485,-4,1560,-3.55,1659,-3.45,1793,-3.2,1994,-4.05,1928,-2.35,1868,-1.7,1479,-2.55,1599,-2.8,1524,-1.7,1539,-2.55,1614,-1.9,1644,-1.5,1674,-2.35,1704,-2.1,1748,-2.35,1793,-1.9,1838,-2.35,1584,-1.7];
const tivPulF_A=[1404,1.7,1198,.8,1344,.8,1569,.45,1674,-.2,1781,-.4,1772,-1.7,1641,-.95,1593,-2.6,1383,-3.1,1201,-2.5,1225,-.4,1255,-1.25,1500,-1.9,1554,-.6,1284,-.15,1314,-1.7,1344,-.6,1359,-1.5,1395,.05,1404,-1.9,1434,-.8,1464,-.15,1494,-.8,1509,-.15,1359,-1.9];
const tivPulM_A=[1467,1.25,1326,.8,1734,1.1,1515,.45,1386,-.5,1425,-1.5,1311,-1.7,1596,.45,1665,.45,1874,.15,1919,-.6,1994,-2.95,1889,-3.6,1859,-2,1790,-2.55,1479,-3,1560,-3,1626,-2.65,1524,-2.1,1656,-1.6,1455,-.6,1485,-.8,1530,-.6,1695,-.4,1725,-.8,1754,-1.25,1769,-.4,1799,-.8,1829,-.2,1725,-1.7,1754,-2.1,1470,-1.05];

const pairs=a=>{const o=[];for(let i=0;i<a.length;i+=2)o.push([a[i],a[i+1]]);return o;};
const ageC=e=>ageBody.concat(ageRim,e),tivF=e=>tivBodyF.concat(tivRimF,e),tivM=e=>tivBodyM.concat(tivRimM,e);
const ageData=[
 [ageC(ageThalF_C),ageThalF_E,ageThalF_L,ageThalF_A],[ageC(ageThalM_C),ageThalM_E,ageThalM_L,ageThalM_A],
 [ageC(ageAVF_C),ageAVF_E,ageAVF_L,ageAVF_A],[ageC(ageAVM_C),ageAVM_E,ageAVM_L,ageAVM_A],
 [ageC(agePulF_C),agePulF_E,agePulF_L,agePulF_A],[ageC(agePulM_C),agePulM_E,agePulM_L,agePulM_A]];
const tivData=[
 [tivF(tivThalF_C),tivThalF_E,tivThalF_L,tivThalF_A],[tivM(tivThalM_C),tivThalM_E,tivThalM_L,tivThalM_A],
 [tivF(tivAVF_C),tivAVF_E,tivAVF_L,tivAVF_A],[tivM(tivAVM_C),tivAVM_E,tivAVM_L,tivAVM_A],
 [tivF(tivPulF_C),tivPulF_E,tivPulF_L,tivPulF_A],[tivM(tivPulM_C),tivPulM_E,tivPulM_L,tivPulM_A]];

const svg=d3.select("#c");
const P={age:{tops:[55.6,147.6,239.6,331.6],h:80.6,dom:[1.1,104.7],maj:ageMajor,min:ageMinor,data:ageData,lab:ageMajor},
 tiv:{tops:[549,633,717,801],h:73.5,dom:[653,2268],maj:tivMajor,min:tivMinor,data:tivData,lab:tivLabels}};
const X0=63.3,W=180.4,STEP=189;
const T=(x,y,s,size,fill,anchor="middle")=>svg.append("text").attr("x",x).attr("y",y).attr("text-anchor",anchor).attr("font-size",size).attr("fill",fill).text(s);
for(const k of ["age","tiv"]){const p=P[k];
 regions.forEach((r,c)=>{const x0=X0+c*STEP;const x=d3.scaleLinear().domain(p.dom).range([x0,x0+W]);
  groups.forEach((g,i)=>{const t=p.tops[i];const y=d3.scaleLinear().domain([-5.3,4.3]).range([t+p.h,t]);
   const G=svg.append("g");
   const hl=(v,w,col)=>G.append("line").attr("x1",x0).attr("x2",x0+W).attr("y1",y(v)).attr("y2",y(v)).attr("stroke",col).attr("stroke-width",w);
   const vl=(v,w)=>G.append("line").attr("x1",x(v)).attr("x2",x(v)).attr("y1",t).attr("y2",t+p.h).attr("stroke","#ebebeb").attr("stroke-width",w);
   yMinor.forEach(v=>hl(v,.8,"#ebebeb"));p.min.forEach(v=>vl(v,.8));
   yMajor.forEach(v=>hl(v,1.5,"#ebebeb"));p.maj.forEach(v=>vl(v,1.5));
   G.selectAll("circle").data(pairs(p.data[c][i])).join("circle").attr("cx",d=>x(d[0])).attr("cy",d=>y(d[1])).attr("r",3.6).attr("fill",colors[i]);
   hl(0,1.5,"rgba(0,0,0,.3)");
   if(c==0)yMajor.forEach(v=>T(x0-8,y(v)+4.5,v.toFixed(1),12.5,"#4d4d4d","end"));
   if(c==5)T(1217,t+p.h/2+6,g,13.3,"#1a1a1a");
  });
  const base=p.tops[0];
  T(x0+W/2,base-34,r,13.3,"#1a1a1a");T(x0+W/2,base-8,sexes[c],13.3,"#1a1a1a");
  const by=p.tops[3]+p.h;
  p.maj.forEach((v,j)=>{if(k=="age")T(x(v),by+20,p.lab[j],12.5,"#4d4d4d");
   else svg.append("text").attr("transform",`translate(${x(v)+6},${by+11}) rotate(-45)`).attr("text-anchor","end").attr("font-size",12.5).attr("fill","#4d4d4d").text(p.lab[j]);});
 });
}
const lab=(t,x,y,rot)=>svg.append("text").attr("transform",`translate(${x},${y}) rotate(${rot})`).attr("text-anchor","middle").attr("font-size",16.3).attr("fill","#000").text(t);
lab("Age",626,452,0);lab("eTIV",626,946,0);lab("Z-score",26,236,-90);lab("Z-score",26,713,-90);
</script></body></html>
